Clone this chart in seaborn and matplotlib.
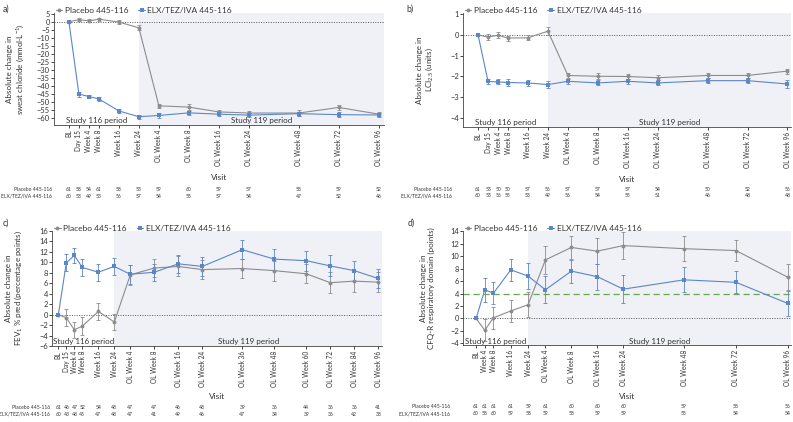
import numpy as np
import pandas as pd
import matplotlib
matplotlib.use("Agg")
import matplotlib.pyplot as plt
import matplotlib.transforms as mtransforms
import seaborn as sns

sns.set_style("ticks")
plt.rcParams['font.family'] = ['Lato', 'DejaVu Sans']
plt.rcParams['mathtext.fontset'] = 'custom'
plt.rcParams['mathtext.rm'] = 'Lato'
plt.rcParams['mathtext.it'] = 'Lato:italic'

# --- data ---
PBO = 'Placebo 445-116'
ELX = 'ELX/TEZ/IVA 445-116'

visits_ab = ['BL', 'Day 15', 'Week 4', 'Week 8', 'Week 16', 'Week 24', 'OL Week 4', 'OL Week 8',
             'OL Week 16', 'OL Week 24', 'OL Week 48', 'OL Week 72', 'OL Week 96']
pos_ab = [0, 1, 2, 3, 5, 7, 9, 12, 15, 18, 23, 27, 31]

a_pbo = [0, 1.3, 0.5, 1.6, -0.2, -3.8, -52.4, -53.2, -56.2, -56.9, -56.9, -53.4, -57.6]
a_pbo_se = [0, 0.9, 0.9, 0.9, 1.0, 1.5, 1.2, 2.0, 1.4, 1.4, 2.0, 1.8, 1.3]
a_elx = [0, -45.1, -46.6, -48.1, -55.6, -59.2, -58.4, -56.8, -57.6, -58.2, -57.3, -57.9, -58.1]
a_elx_se = [0, 1.6, 1.2, 1.4, 1.3, 1.2, 1.5, 1.4, 1.2, 1.3, 1.3, 1.4, 1.4]
a_n_pbo = [61, 58, 54, 61, 58, 53, 59, 60, 59, 57, 58, 59, 52]
a_n_elx = [60, 53, 49, 53, 56, 57, 54, 55, 57, 54, 47, 52, 46]

b_pbo = [0, -0.1, -0.02, -0.15, -0.14, 0.18, -1.95, -1.99, -2.0, -2.06, -1.95, -1.95, -1.74]
b_pbo_se = [0, 0.15, 0.15, 0.12, 0.12, 0.2, 0.12, 0.15, 0.12, 0.13, 0.13, 0.13, 0.12]
b_elx = [0, -2.24, -2.26, -2.29, -2.31, -2.39, -2.23, -2.31, -2.23, -2.31, -2.2, -2.2, -2.36]
b_elx_se = [0, 0.12, 0.12, 0.15, 0.14, 0.15, 0.12, 0.12, 0.12, 0.12, 0.12, 0.12, 0.17]
b_n_pbo = [61, 53, 50, 50, 57, 56, 57, 57, 57, 54, 50, 52, 56]
b_n_elx = [60, 53, 56, 55, 53, 49, 56, 54, 55, 51, 46, 48, 48]

visits_c = ['BL', 'Day 15', 'Week 4', 'Week 8', 'Week 16', 'Week 24', 'OL Week 4', 'OL Week 8',
            'OL Week 16', 'OL Week 24', 'OL Week 36', 'OL Week 48', 'OL Week 60', 'OL Week 72',
            'OL Week 84', 'OL Week 96']
pos_c = [0, 1, 2, 3, 5, 7, 9, 12, 15, 18, 23, 27, 31, 34, 37, 40]
c_pbo = [0, -0.6, -2.9, -2.2, 0.6, -1.4, 7.6, 8.9, 9.2, 8.6, 8.8, 8.4, 7.8, 6.1, 6.4, 6.2]
c_pbo_se = [0, 1.6, 1.5, 1.7, 1.7, 1.6, 1.9, 1.8, 1.9, 1.8, 1.8, 1.9, 1.8, 2.0, 2.0, 1.9]
c_elx = [0, 9.9, 11.3, 9.0, 8.1, 9.2, 7.7, 8.1, 9.7, 9.2, 12.4, 10.6, 10.3, 9.3, 8.4, 6.9]
c_elx_se = [0, 1.6, 1.5, 1.65, 1.65, 1.6, 1.8, 1.6, 1.7, 1.8, 1.8, 2.0, 1.9, 2.0, 1.9, 1.9]
c_n_pbo = [61, 46, 47, 52, 54, 48, 47, 47, 46, 48, 39, 36, 44, 36, 36, 41]
c_n_elx = [60, 43, 48, 45, 47, 48, 47, 41, 49, 46, 47, 34, 39, 36, 42, 38]

visits_d = ['BL', 'Week 4', 'Week 8', 'Week 16', 'Week 24', 'OL Week 4', 'OL Week 8',
            'OL Week 16', 'OL Week 24', 'OL Week 48', 'OL Week 72', 'OL Week 96']
pos_d = [0, 1, 2, 4, 6, 8, 11, 14, 17, 24, 30, 36]
d_pbo = [0, -1.9, 0.1, 1.2, 2.2, 9.4, 11.4, 10.8, 11.7, 11.2, 10.9, 6.6]
d_pbo_se = [0, 1.8, 1.75, 1.8, 2.0, 2.2, 1.8, 2.1, 2.2, 2.0, 1.7, 2.1]
d_elx = [0, 4.6, 4.05, 7.8, 6.8, 4.6, 7.6, 6.7, 4.7, 6.2, 5.8, 2.4]
d_elx_se = [0, 1.95, 1.8, 1.8, 2.1, 2.2, 1.85, 2.1, 2.3, 2.0, 1.75, 2.05]
d_n_pbo = [61, 61, 61, 61, 59, 61, 60, 60, 60, 59, 58, 56]
d_n_elx = [60, 58, 60, 59, 58, 59, 58, 59, 59, 55, 54, 54]

GRAY = '#8c8c8c'
BLUE = '#5b86c8'
SHADE = '#eff1f6'
TXT = '#333333'

fig = plt.figure(figsize=(7.93, 4.22), dpi=100)

panels = [
    dict(letter='a)', rect=[0.068, 0.704, 0.416, 0.265], visits=visits_ab, pos=pos_ab,
         pbo=a_pbo, pbo_se=a_pbo_se, elx=a_elx, elx_se=a_elx_se, n_pbo=a_n_pbo, n_elx=a_n_elx,
         xlim=(-1.5, 31.5), ylim=(-64.3, 5.4), yticks=np.arange(-60, 6, 5),
         ylabel='Absolute change in\nsweat chloride (mmol·L$^{-1}$)', nrow=(-0.575, -0.64),
         visit_y=-0.44, rowlab_x=-0.006, letter_xy=(0.003, 0.99)),
    dict(letter='b)', rect=[0.584, 0.699, 0.414, 0.270], visits=visits_ab, pos=pos_ab,
         pbo=b_pbo, pbo_se=b_pbo_se, elx=b_elx, elx_se=b_elx_se, n_pbo=b_n_pbo, n_elx=b_n_elx,
         xlim=(-1.5, 31.4), ylim=(-4.43, 1.05), yticks=np.arange(-4, 2, 1),
         ylabel='Absolute change in\nLCI$_{2.5}$ (units)', nrow=(-0.545, -0.605),
         visit_y=-0.43, rowlab_x=-0.033, letter_xy=(0.513, 0.99)),
    dict(letter='c)', rect=[0.066, 0.180, 0.416, 0.273], visits=visits_c, pos=pos_c,
         pbo=c_pbo, pbo_se=c_pbo_se, elx=c_elx, elx_se=c_elx_se, n_pbo=c_n_pbo, n_elx=c_n_elx,
         xlim=(-0.75, 40.5), ylim=(-6, 16), yticks=np.arange(-6, 17, 2),
         ylabel='Absolute change in\nFEV$_1$ % pred (percentage points)', nrow=(-0.53, -0.59),
         visit_y=-0.41, rowlab_x=-0.006, letter_xy=(0.003, 0.483)),
    dict(letter='d)', rect=[0.584, 0.182, 0.414, 0.270], visits=visits_d, pos=pos_d,
         pbo=d_pbo, pbo_se=d_pbo_se, elx=d_elx, elx_se=d_elx_se, n_pbo=d_n_pbo, n_elx=d_n_elx,
         xlim=(-1.5, 36.4), ylim=(-4.3, 14), yticks=np.arange(-4, 15, 2),
         ylabel='Absolute change in\nCFQ-R respiratory domain (points)', nrow=(-0.54, -0.6),
         visit_y=-0.42, rowlab_x=-0.04, letter_xy=(0.514, 0.483), mcid=4),
]

for p in panels:
    ax = fig.add_axes(p['rect'])
    df = pd.DataFrame({
        'pos': p['pos'] * 2,
        'value': p['pbo'] + p['elx'],
        'se': p['pbo_se'] + p['elx_se'],
        'group': [PBO] * len(p['pos']) + [ELX] * len(p['pos']),
    })

    # study 119 period starts at the week 24 visit
    xs = p['pos'][p['visits'].index('Week 24')]
    x0, x1 = p['xlim']
    ax.axvspan(xs, x1, color=SHADE, lw=0, zorder=0)
    ax.axhline(0, color='#555555', ls=(0, (1, 1.5)), lw=0.7, zorder=1)
    if 'mcid' in p:
        ax.axhline(p['mcid'], color='#6aa84f', ls=(0, (5, 3)), lw=0.9, zorder=1)

    for grp, col in [(PBO, GRAY), (ELX, BLUE)]:
        sub = df[df['group'] == grp]
        ax.errorbar(sub['pos'], sub['value'], yerr=sub['se'], fmt='none', ecolor=col,
                    elinewidth=0.6, capsize=1.6, capthick=0.6, zorder=2)

    sns.lineplot(data=df, x='pos', y='value', hue='group', style='group',
                 palette={PBO: GRAY, ELX: BLUE}, markers={PBO: 'o', ELX: 's'},
                 dashes=False, linewidth=0.8, markersize=2.8, markeredgewidth=0,
                 errorbar=None, ax=ax, zorder=3)

    handles, labels = ax.get_legend_handles_labels()
    ax.legend(handles, labels, loc='lower left', bbox_to_anchor=(0.005, 0.99), ncol=2,
              frameon=False, fontsize=6, handlelength=0.8, handletextpad=0.3,
              columnspacing=1.2, borderaxespad=0, borderpad=0, labelcolor=TXT)

    ax.set_xlim(x0, x1)
    ax.set_ylim(*p['ylim'])
    ax.set_yticks(p['yticks'])
    ax.set_xticks(p['pos'])
    ax.set_xticklabels(p['visits'], rotation=90, fontsize=4.7, color=TXT)
    ax.tick_params(axis='y', labelsize=5.4, labelcolor=TXT, length=2, width=0.6, pad=1)
    ax.tick_params(axis='x', length=2, width=0.6, pad=1.5)
    for s in ['top', 'right']:
        ax.spines[s].set_visible(False)
    for s in ['left', 'bottom']:
        ax.spines[s].set_linewidth(0.6)
        ax.spines[s].set_color('#444444')

    ax.set_ylabel(p['ylabel'], fontsize=5.8, color=TXT, linespacing=1.15)
    ax.yaxis.set_label_coords(-0.085, 0.5)
    ax.set_xlabel('Visit', fontsize=6.0, color=TXT)
    ax.xaxis.set_label_coords(0.5, p['visit_y'])

    # period labels
    trans = mtransforms.blended_transform_factory(ax.transData, ax.transAxes)
    ax.text((x0 + xs) / 2, 0.005, 'Study 116 period', transform=trans, ha='center',
            va='bottom', fontsize=5.8, color=TXT)
    ax.text((xs + x1) / 2, 0.005, 'Study 119 period', transform=trans, ha='center',
            va='bottom', fontsize=5.8, color=TXT)

    # number of participants per visit
    for yrow, lab, ns in [(p['nrow'][0], PBO, p['n_pbo']), (p['nrow'][1], ELX, p['n_elx'])]:
        ax.text(p['rowlab_x'], yrow, lab, transform=ax.transAxes, ha='right', va='center',
                fontsize=3.6, color=TXT)
        for xv, nv in zip(p['pos'], ns):
            ax.text(xv, yrow, str(nv), transform=trans, ha='center', va='center',
                    fontsize=3.6, color=TXT)

    fig.text(p['letter_xy'][0], p['letter_xy'][1], p['letter'], ha='left', va='top',
             fontsize=6.2, color=TXT)

fig.savefig('out.png', dpi=100)
